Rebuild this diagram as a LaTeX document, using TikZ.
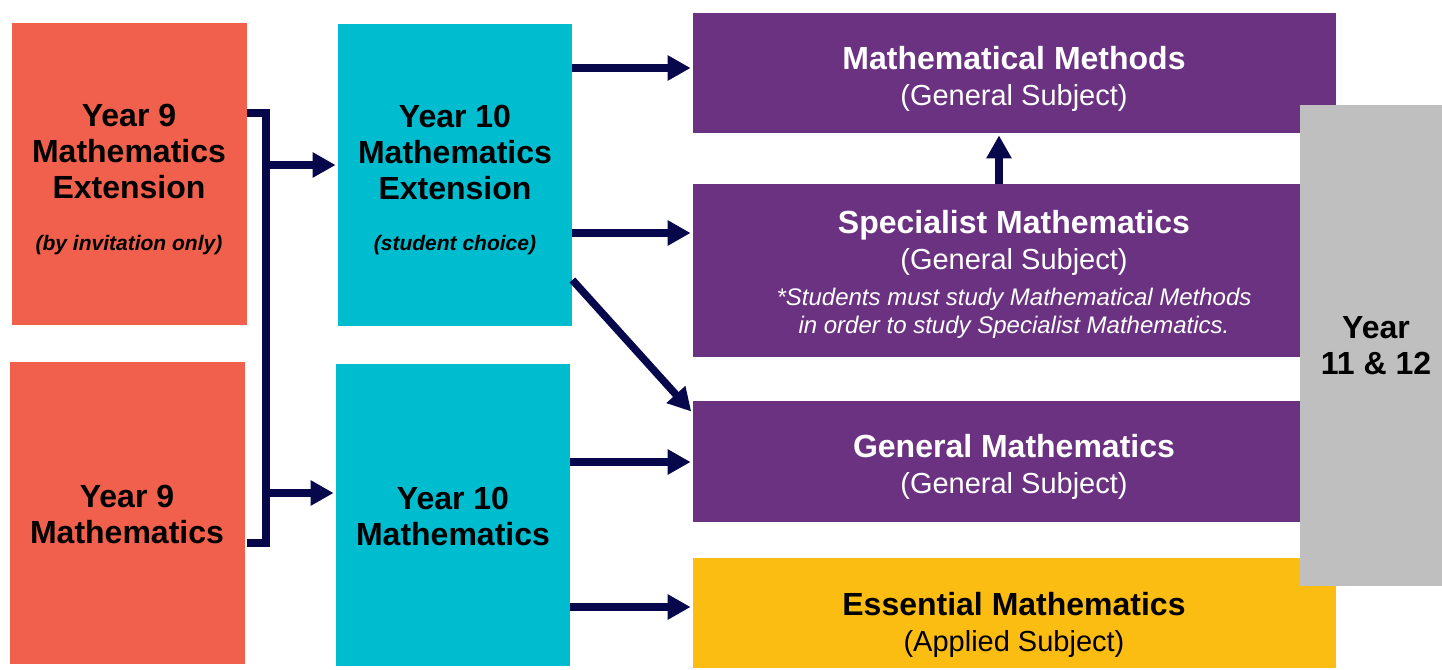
\documentclass[tikz,border=0pt]{standalone}
\usepackage{fontspec}
\setmainfont{Liberation Sans}
\usetikzlibrary{arrows.meta,positioning}
\definecolor{redbox}{HTML}{F0604D}
\definecolor{cyanbox}{HTML}{00BCCF}
\definecolor{purplebox}{HTML}{6C3282}
\definecolor{yellowbox}{HTML}{FCBD12}
\definecolor{greybox}{HTML}{BFBFBF}
\definecolor{navy}{HTML}{07074C}
\tikzstyle{box}=[rectangle,draw=none,inner sep=0pt]
\tikzstyle{link}=[draw=navy,line width=3.75pt]
\tikzstyle{flow}=[link,->]
\tikzstyle{head}=[font=\fontsize{16}{18}\selectfont\bfseries,align=center,inner sep=0pt]
\tikzstyle{subj}=[font=\fontsize{14.5}{18}\selectfont,align=center,inner sep=0pt]
\tikzstyle{note}=[font=\fontsize{10.5}{12}\selectfont\bfseries\itshape,inner sep=0pt]
\newcommand{\subjname}[1]{{\fontsize{16}{18}\selectfont\bfseries #1}}

\begin{document}
\begin{tikzpicture}[x=0.5pt,y=-0.5pt,>={Triangle[length=11.5pt,width=12pt]},shorten >=1pt]
    \useasboundingbox (0,0) rectangle (1442,670);

    % year 9 and year 10
    \node[box,fill=redbox,minimum width=117.5pt,minimum height=151pt] (r9x) at (129.5,174) {};
    \node[box,fill=redbox,minimum width=117.5pt,minimum height=151pt] (r9) at (127.5,513) {};
    \node[box,fill=cyanbox,minimum width=117pt,minimum height=151pt] (y10x) at (455,175) {};
    \node[box,fill=cyanbox,minimum width=117pt,minimum height=151pt] (y10) at (453,515) {};

    \node[head] (r9xt) at (129,151.5) {Year 9\\Mathematics\\Extension};
    \node[note] (r9xn) at (129,245) {(by invitation only)};
    \node[head] (r9t) at (127,514.5) {Year 9\\Mathematics};
    \node[head] (y10xt) at (455,152.5) {Year 10\\Mathematics\\Extension};
    \node[note] (y10xn) at (455,245) {(student choice)};
    \node[head] (y10t) at (453,516.5) {Year 10\\Mathematics};

    % year 11 and 12 subjects
    \node[box,fill=purplebox,minimum width=321.5pt,minimum height=60pt] (mm) at (1014.5,73) {};
    \node[box,fill=purplebox,minimum width=321.5pt,minimum height=86.5pt] (sm) at (1014.5,270.5) {};
    \node[box,fill=purplebox,minimum width=321.5pt,minimum height=60.5pt] (gm) at (1014.5,461.5) {};
    \node[box,fill=yellowbox,minimum width=321.5pt,minimum height=55pt] (em) at (1014.5,613) {};
    \node[box,fill=greybox,minimum width=71pt,minimum height=240.5pt] (yr) at (1371,345.5) {};

    \node[subj,text=white] (mmt) at (1014,79) {\subjname{Mathematical Methods}\\(General Subject)};
    \node[subj,text=white] (smt) at (1014,243) {\subjname{Specialist Mathematics}\\(General Subject)};
    \node[font=\fontsize{12}{14}\selectfont\itshape,align=center,inner sep=0pt,text=white] (smn) at (1014,313)
        {*Students must study Mathematical Methods\\in order to study Specialist Mathematics.};
    \node[subj,text=white] (gmt) at (1014,467) {\subjname{General Mathematics}\\(General Subject)};
    \node[subj] (emt) at (1014,625) {\subjname{Essential Mathematics}\\(Applied Subject)};
    \node[head] (yrt) at (1376,346) {Year\\11 \& 12};

    % connectors
    \coordinate (bt) at (266,113);
    \coordinate (bb) at (266,543);
    \draw[link] (r9x.east |- bt) -- (bt) -- (bb) -- (r9.east |- bb);
    \draw[flow] (bt |- 0,165) -- (y10x.west |- 0,165);
    \draw[flow] (bb |- 0,493) -- (y10.west |- 0,493);

    \draw[flow] (y10x.east |- 0,68) -- (mm.west |- 0,68);
    \draw[flow] (y10x.east |- 0,233) -- (sm.west |- 0,233);
    \draw[flow] (y10x.east |- 0,280) -- (gm.west |- 0,413);
    \draw[flow] (y10.east |- 0,462) -- (gm.west |- 0,462);
    \draw[flow] (y10.east |- 0,607) -- (em.west |- 0,607);
    \draw[flow] (sm.north -| 999,0) -- (mm.south -| 999,0);
\end{tikzpicture}
\end{document}
